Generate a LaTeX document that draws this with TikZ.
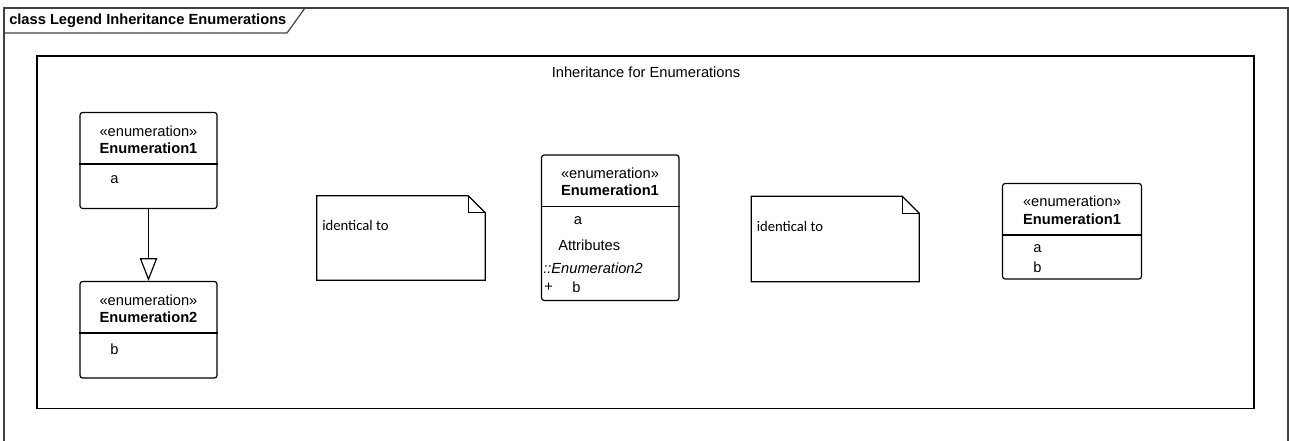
\documentclass[tikz,border=0pt]{standalone}
\usepackage{fontspec}
\setmainfont{Liberation Sans}
\newfontfamily\notefont{Carlito}
\usetikzlibrary{arrows.meta,fit}

\tikzset{
  enumbox/.style={draw,rounded corners=2pt,inner sep=0pt,line width=0.9pt},
  notebox/.style={inner sep=0pt},
  stereo/.style={inner sep=0pt,font=\fontsize{11}{13}\selectfont},
  cname/.style={inner sep=0pt,font=\fontsize{11}{13}\selectfont\bfseries},
  attr/.style={inner sep=0pt,anchor=west,font=\fontsize{11}{13}\selectfont},
  gen/.style={-{Triangle[open,length=17pt,width=13pt]},line width=0.9pt}
}

\begin{document}
\begin{tikzpicture}[x=0.75pt,y=-0.75pt]
\useasboundingbox (0,0) rectangle (1289,441);
% outer frame and its tab
\draw[line width=0.9pt,black!75] (4,441) -- (4,8) -- (1288,8) -- (1288,441);
\draw[line width=0.9pt,black!75] (4,33) -- (287,33) -- (305,8);
\node[anchor=west,inner sep=0pt,font=\fontsize{11}{13}\selectfont\bfseries] (frametitle) at (9,21) {class Legend Inheritance Enumerations};

% inner package
\node[draw,line width=0.9pt,inner sep=0pt,fit={(37,56) (1254,408.5)}] (pkg) {};
\node[inner sep=0pt,font=\fontsize{11}{13}\selectfont] (pkgtitle) at (646,72) {Inheritance for Enumerations};

% left: Enumeration2 specialises Enumeration1
\node[enumbox,fit={(80,112.5) (217,208.5)}] (e1) {};
\draw[line width=0.9pt] (e1.west |- 0,164) -- (e1.east |- 0,164);
\node[stereo] (e1s) at (148.5,131) {«enumeration»};
\node[cname] (e1n) at (148.5,148) {Enumeration1};
\node[attr] (e1a) at (110,180) {a};

\node[enumbox,fit={(80,281.5) (217,378)}] (e2) {};
\draw[line width=0.9pt] (e2.west |- 0,333) -- (e2.east |- 0,333);
\node[stereo] (e2s) at (148.5,300) {«enumeration»};
\node[cname] (e2n) at (148.5,317) {Enumeration2};
\node[attr] (e2b) at (110,349) {b};

\draw[gen] (e1) -- (e2);

% first note
\node[notebox,fit={(317,196) (485,280)}] (n1) {};
\draw[line width=0.9pt] (n1.north west) -- ([xshift=-12.75pt]n1.north east) -- ([yshift=-12.75pt]n1.north east) -- (n1.south east) -- (n1.south west) -- cycle;
\draw[line width=0.9pt] ([xshift=-12.75pt]n1.north east) |- ([yshift=-12.75pt]n1.north east);
\node[anchor=west,inner sep=0pt,font=\notefont\fontsize{11}{13}\selectfont] (n1t) at (322,225) {identical to};

% middle: Enumeration1 with inherited attribute
\node[enumbox,fit={(541.5,155) (679,300.5)}] (m) {};
\draw[line width=0.9pt] (m.west |- 0,206.5) -- (m.east |- 0,206.5);
\node[stereo] (ms) at (610,173) {«enumeration»};
\node[cname] (mn) at (610,190) {Enumeration1};
\node[attr] (ma) at (573.5,221) {a};
\node[attr] (mattr) at (558,245) {Attributes};
\node[attr,font=\fontsize{11}{13}\selectfont\itshape] (menum) at (543,268) {::Enumeration2};
\node[attr] (mplus) at (544,287) {+};
\node[attr] (mb) at (572,287) {b};

% second note
\node[notebox,fit={(751.5,196.5) (919,281.5)}] (n2) {};
\draw[line width=0.9pt] (n2.north west) -- ([xshift=-12.75pt]n2.north east) -- ([yshift=-12.75pt]n2.north east) -- (n2.south east) -- (n2.south west) -- cycle;
\draw[line width=0.9pt] ([xshift=-12.75pt]n2.north east) |- ([yshift=-12.75pt]n2.north east);
\node[anchor=west,inner sep=0pt,font=\notefont\fontsize{11}{13}\selectfont] (n2t) at (756.5,226.5) {identical to};

% right: resulting Enumeration1
\node[enumbox,fit={(1002.5,183.5) (1141.5,279)}] (r) {};
\draw[line width=0.9pt] (r.west |- 0,235) -- (r.east |- 0,235);
\node[stereo] (rs) at (1072,201) {«enumeration»};
\node[cname] (rn) at (1072,219) {Enumeration1};
\node[attr] (ra) at (1033,249) {a};
\node[attr] (rb) at (1033,267.5) {b};
\end{tikzpicture}
\end{document}
